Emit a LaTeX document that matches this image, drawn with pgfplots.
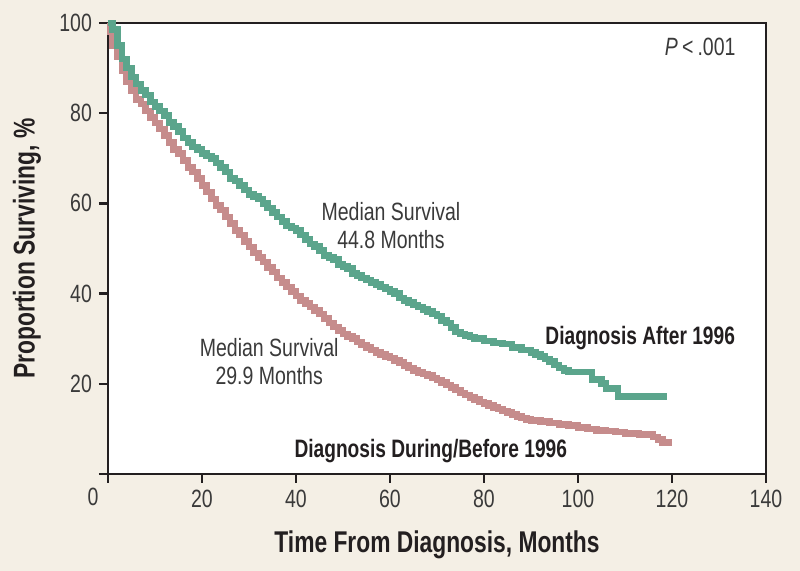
\documentclass[border=0pt]{standalone}
\usepackage{fontspec}
\setmainfont{Liberation Sans}[FakeStretch=0.84, BoldFeatures={FakeStretch=0.76}]
\newfontfamily\condfont{Liberation Sans}[FakeStretch=0.78]
\usepackage{pgfplots}
\pgfplotsset{compat=1.18}
\definecolor{bg}{HTML}{F4EFE5}
\definecolor{kmgreen}{HTML}{5BA58C}
\definecolor{kmpink}{HTML}{C68C8C}
\definecolor{axiscol}{HTML}{231F20}
\definecolor{txt}{HTML}{3A3A3A}
\pgfplotstableread{
x y
0 100
1 98.5
2 95
3 92
4 90
5 88
6 86.5
7 85
8 84
9 82.5
10 81.5
11 80.5
12 79.5
13 78
14 77
15 76
16 74.5
17 73.5
18 72.5
19 72
20 71
21 70.5
22 70
23 69
24 68
25 67
26 65.5
27 65
28 64
29 63
30 62
31 61.5
32 61
33 60
34 59
35 58
36 57
37 56
38 55
39 54.5
40 54
41 53
42 52
43 51
44 50.5
45 49.5
46 48.5
47 48
48 47.5
49 46.5
50 46
51 45.5
52 44.5
53 44
54 43.5
55 43
56 42.5
57 42
58 41.5
59 41
60 40.5
61 40
62 39
63 38.5
64 38
65 37.5
66 37
67 36.5
68 36
69 35.5
70 35
71 34
72 33.5
73 32.5
74 31.5
75 31
76 30.7
77 30.4
78 30
80 29.5
82 29
84 28.8
86 28
88 27.5
90 27
91 26.5
92 26
93 25.5
94 25
95 24.2
96 23.5
97 23
98 22.6
103 21
105 20
106 19
108.5 17.2
119 17.2
}\aftertbl
\pgfplotstableread{
x y
0 100
0.5 98
1 95
2 92.5
3 89.5
4 87
5 85
6 83
7 82
8 80.5
9 79
10 77.8
11 76.5
12 75
13 73.5
14 72
15 71
16 69.5
17 68
18 67
19 65.5
20 64
21 62.5
22 61
23 59.5
24 58.5
25 57
26 55.5
27 54
28 53
29 51.5
30 50.3
31 49
32 48
33 47
34 45.8
35 44.8
36 43.5
37 42.5
38 41.5
39 40.5
40 39.5
41 38.5
42 37.8
43 37
44 36.3
45 35.5
46 34.5
47 33.5
48 32.6
49 31.8
50 31
51 30.5
52 30
53 29.3
54 28.6
55 28
56 27.5
57 27
58 26.5
59 26
60 25.7
61 25.2
62 24.7
63 24
64 23.5
65 23
66 22.5
67 22.2
68 21.8
69 21.3
70 20.8
71 20.3
72 19.7
73 19.2
74 18.6
75 18
76 17.5
77 17
78 16.5
79 16
80 15.6
81 15.2
82 14.8
83 14.4
84 14
85 13.6
86 13.2
87 12.8
88 12.4
89 12.1
90 11.9
92 11.7
94 11.3
96 11
98 10.7
100 10.3
102 10
104 9.7
106 9.5
108 9.3
110 9
113 8.8
116 8.2
117 7.6
118 7
120 7
}\beforetbl
\begin{document}
\begin{tikzpicture}
\fill[bg] (0,0) rectangle (400pt,285.5pt);
\begin{axis}[
  at={(54pt,48.5pt)}, anchor=south west,
  scale only axis, width=329pt, height=225.5pt,
  xmin=0, xmax=140, ymin=0, ymax=100,
  clip=false,
  axis background/.style={fill=white},
  axis line style={line width=1.2pt, color=axiscol},
  xtick={0,20,...,140}, ytick={0,20,...,100},
  xticklabels={,20,40,60,80,100,120,140},
  yticklabels={,20,40,60,80,100},
  xtick pos=left, ytick pos=left,
  tick align=outside, major tick length=4.5pt,
  tick style={line width=1.2pt, color=axiscol},
  tick label style={font=\condfont\fontsize{12.5}{14}\selectfont, text=txt},
  /pgf/number format/assume math mode=true,
  xlabel={Time From Diagnosis, Months},
  ylabel={Proportion Surviving, \%},
  label style={font=\bfseries\fontsize{15}{18}\selectfont, text=axiscol},
  xlabel style={at={(axis description cs:0.5,-0.1574)}, anchor=center},
  ylabel style={at={(axis description cs:-0.1231,0.5)}, anchor=center},
]
\addplot[const plot, line width=3.3pt, color=kmpink, line join=miter] table[x=x,y=y] {\beforetbl};
\addplot[const plot, line width=3.3pt, color=kmgreen, line join=miter] table[x=x,y=y] {\aftertbl};
\node[font=\condfont\fontsize{12.5}{14}\selectfont, text=txt] at (axis cs:0,0) [xshift=-7.5pt, yshift=-11.5pt] {0};
\node[anchor=east, inner sep=0pt, font=\condfont\fontsize{12.5}{14}\selectfont, text=txt] at (axis cs:133.6,94.7) {\textit{P}\,<\,.001};
\node[align=center, font=\condfont\fontsize{12.5}{14}\selectfont, text=txt] at (axis cs:60.2,55) {Median Survival\\44.8 Months};
\node[align=center, font=\condfont\fontsize{12.5}{14}\selectfont, text=txt] at (axis cs:34.3,25) {Median Survival\\29.9 Months};
\node[anchor=west, inner sep=0pt, font=\bfseries\fontsize{12.6}{14}\selectfont, text=axiscol] at (axis cs:93,30.2) {Diagnosis After 1996};
\node[anchor=west, inner sep=0pt, font=\bfseries\fontsize{12.6}{14}\selectfont, text=axiscol] at (axis cs:39.6,5.1) {Diagnosis During/Before 1996};
\end{axis}
\pgfresetboundingbox
\path (0,0) rectangle (400pt,285.5pt);
\end{tikzpicture}
\end{document}
